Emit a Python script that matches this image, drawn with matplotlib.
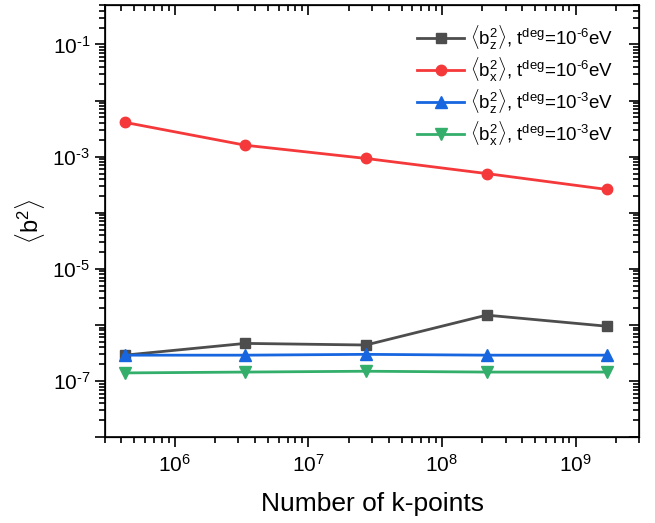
import numpy as np
import matplotlib.pyplot as plt
from matplotlib.ticker import LogLocator, FixedLocator, FuncFormatter, NullFormatter

plt.rcParams['font.family'] = ['Liberation Sans', 'DejaVu Sans']
plt.rcParams['mathtext.fontset'] = 'custom'
plt.rcParams['mathtext.rm'] = 'Liberation Sans'
plt.rcParams['mathtext.it'] = 'Liberation Sans:italic'

# number of k-points (75^3 * 8^n)
kpts = [421875, 3375000, 27000000, 216000000, 1728000000]

bz_6 = [2.9e-7, 4.7e-7, 4.4e-7, 1.5e-6, 9.5e-7]
bx_6 = [4.1e-3, 1.6e-3, 9.3e-4, 5.0e-4, 2.6e-4]
bz_3 = [2.9e-7, 2.9e-7, 3.0e-7, 2.9e-7, 2.9e-7]
bx_3 = [1.4e-7, 1.45e-7, 1.5e-7, 1.45e-7, 1.45e-7]

labels = [r'$\langle\mathrm{b_z^2}\rangle$, t$^{\rm deg}$=10$^{\text{-6}}$eV',
          r'$\langle\mathrm{b_x^2}\rangle$, t$^{\rm deg}$=10$^{\text{-6}}$eV',
          r'$\langle\mathrm{b_z^2}\rangle$, t$^{\rm deg}$=10$^{\text{-3}}$eV',
          r'$\langle\mathrm{b_x^2}\rangle$, t$^{\rm deg}$=10$^{\text{-3}}$eV']

fig = plt.figure(figsize=(6.55, 5.23), dpi=100)
ax = fig.add_axes([0.160, 0.164, 0.816, 0.826])

ax.plot(kpts, bz_6, color='#4d4d4d', marker='s', ms=6.5, lw=2, label=labels[0])
ax.plot(kpts, bx_6, color='#f5383a', marker='o', ms=7.5, lw=2, label=labels[1])
ax.plot(kpts, bz_3, color='#1766e0', marker='^', ms=8, lw=2, label=labels[2])
ax.plot(kpts, bx_3, color='#34ae6b', marker='v', ms=8, lw=2, label=labels[3])

xlim = (3e5, 3e9)
ylim = (1e-8, 0.5)
ax.set_xscale('log')
ax.set_yscale('log')
ax.set_xlim(*xlim)
ax.set_ylim(*ylim)


def ylab(v, p):
    e = int(round(np.log10(v)))
    if e % 2 == 0:
        return ''
    return r'$\mathrm{10}^{\text{%d}}$' % e


ydec = [10.0**e for e in range(-8, 0)]
ax.yaxis.set_major_locator(FixedLocator(ydec))
ax.yaxis.set_major_formatter(FuncFormatter(ylab))
ax.yaxis.set_minor_locator(LogLocator(base=10, subs=np.arange(2, 10), numticks=30))
ax.yaxis.set_minor_formatter(NullFormatter())
ax.xaxis.set_minor_locator(LogLocator(base=10, subs=np.arange(2, 10), numticks=30))
ax.xaxis.set_minor_formatter(NullFormatter())

ax.tick_params(which='both', labelsize=15, width=1.2, direction='out')
ax.tick_params(which='major', length=7)
ax.tick_params(which='minor', length=4)
ax.tick_params(axis='x', which='major', pad=5)
for s in ax.spines.values():
    s.set_linewidth(1.2)

# top and right ticks point inward
axt = ax.twiny()
axt.set_xscale('log')
axt.set_xlim(*xlim)
axt.xaxis.set_minor_locator(LogLocator(base=10, subs=np.arange(2, 10), numticks=30))
axt.tick_params(which='both', direction='in', width=1.2, labeltop=False)
axt.tick_params(which='major', length=7)
axt.tick_params(which='minor', length=4)
axr = ax.twinx()
axr.set_yscale('log')
axr.set_ylim(*ylim)
axr.yaxis.set_major_locator(FixedLocator(ydec))
axr.yaxis.set_minor_locator(LogLocator(base=10, subs=np.arange(2, 10), numticks=30))
axr.tick_params(which='both', direction='in', width=1.2, labelright=False)
axr.tick_params(which='major', length=7)
axr.tick_params(which='minor', length=4)

ax.set_xlabel('Number of k-points', fontsize=19, labelpad=12)
ax.set_ylabel(r'$\langle\mathrm{b^2}\rangle$', fontsize=17, labelpad=4)

ax.legend(loc='upper right', bbox_to_anchor=(0.965, 0.975), borderaxespad=0,
          frameon=False, fontsize=13.5, handlelength=2.5,
          handletextpad=0.3, labelspacing=0.2)

fig.savefig('out.png', dpi=100)
